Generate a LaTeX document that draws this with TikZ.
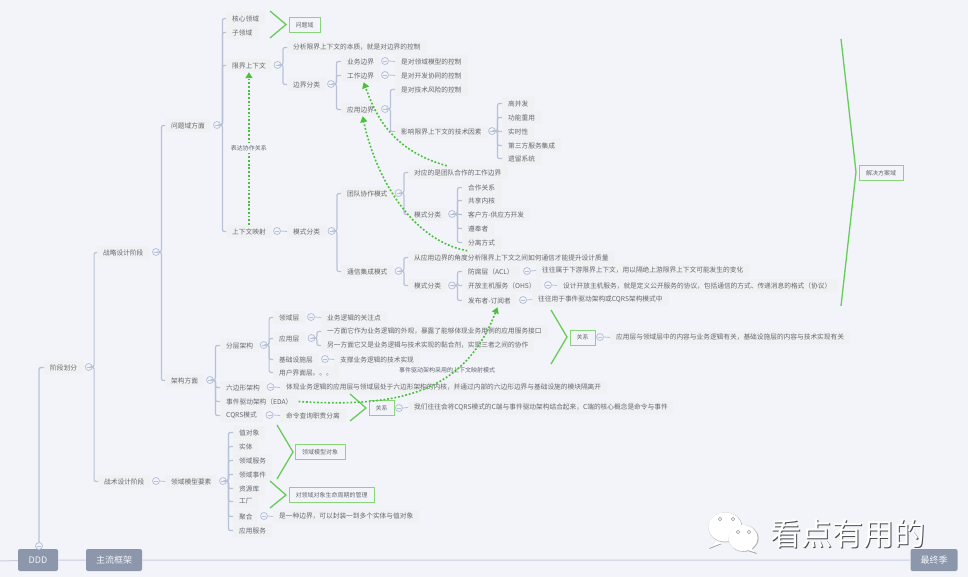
\documentclass[tikz,border=0pt]{standalone}
\usepackage{fontspec}
\usepackage{xcolor}
\usepackage{tikz}
\usetikzlibrary{arrows.meta}
\setmainfont{Noto Sans CJK SC}
\definecolor{pagebg}{RGB}{242,244,250}
\definecolor{ink}{RGB}{100,104,112}
\definecolor{chip}{RGB}{240,241,243}
\definecolor{rline}{RGB}{184,194,214}
\definecolor{leaf}{RGB}{104,204,88}
\definecolor{dotgreen}{RGB}{76,192,60}
\definecolor{rimgreen}{RGB}{136,214,120}
\definecolor{pill}{RGB}{140,151,171}
\definecolor{axisline}{RGB}{202,206,222}
\tikzset{
  topic/.style    ={rectangle, rounded corners=1pt, fill=chip, text=ink, anchor=west, inner xsep=6pt,
                    inner ysep=0pt, minimum height=13pt, yshift=-0.5pt, font=\fontsize{6.7}{8}\selectfont},
  fold/.style     ={circle, draw=rline, fill=pagebg, line width=0.8pt, minimum size=7pt, inner sep=0pt,
                    path picture={\draw[rline, line width=0.6pt] ([xshift=1.5pt]path picture bounding box.west) -- ([xshift=-1.5pt]path picture bounding box.east);}},
  branch/.style   ={draw=rline, line width=1.2pt, rounded corners=2pt},
  twig/.style     ={draw=rline, line width=0.8pt},
  gbox/.style     ={rectangle, draw=rimgreen, line width=1pt, fill=pagebg, text=ink, inner sep=0pt,
                    minimum height=15pt, font=\fontsize{6}{7}\selectfont},
  brace/.style    ={draw=leaf, line width=1.3pt},
  link/.style     ={draw=dotgreen, line width=1.6pt, dash pattern=on 1.8pt off 1.9pt,
                    -{Triangle[length=6pt, width=7pt, fill=dotgreen]}},
  linklabel/.style={text=ink, inner sep=1pt, font=\fontsize{6}{7}\selectfont},
  stagepill/.style={rectangle, rounded corners=2pt, fill=pill, text=pagebg, minimum height=22pt,
                    inner sep=0pt, font=\fontsize{9}{10}\selectfont},
}
\begin{document}
\begin{tikzpicture}[x=1pt, y=-1pt]
\useasboundingbox (0,0) rectangle (968,577);
\fill[pagebg] (0,0) rectangle (968,577);
% bottom timeline
\node[stagepill, minimum width=40pt] (ddd) at (38,560) {DDD};
\node[stagepill, minimum width=56pt] (mainframe) at (114,560) {主流框架};
\node[stagepill, minimum width=47pt] (lastseason) at (934,560) {最终季};
\coordinate (axisstart) at (0,561);
\draw[axisline, line width=1pt] (axisstart) -- (ddd) -- (mainframe) -- (lastseason);
% topics
\foreach \id/\x/\y/\txt in {stage/44/367/{阶段划分},
                            strategy/97/252/{战略设计阶段},
                            tactic/98/481/{战术设计阶段},
                            problem/165/125/{问题域方面},
                            arch/165/380/{架构方面},
                            model/165/481/{领域模型要素},
                            core/226/18/{核心领域},
                            sub/226/32/{子领域},
                            bctx/226/65/{限界上下文},
                            cmap/226/231/{上下文映射},
                            essence/287/47/{分析限界上下文的本质，就是对边界的控制},
                            bkind/287/84/{边界分类},
                            mkind/287/231/{模式分类},
                            bizb/341/61/{业务边界},
                            workb/341/75/{工作边界},
                            appb/341/109/{应用边界},
                            teamm/341/193/{团队协作模式},
                            commm/341/271/{通信集成模式},
                            bizc/395/61/{是对领域模型的控制},
                            workc/395/75/{是对开发协同的控制},
                            techc/395/89/{是对技术风险的控制},
                            factor/395/131/{影响限界上下文的技术因素},
                            teamb/408/172/{对应的是团队合作的工作边界},
                            teamk/408/214/{模式分类},
                            commq/408/257/{从应用边界的角度分析限界上下文之间如何通信才能提升设计质量},
                            commk/408/285/{模式分类},
                            conc/502/103/{高并发},
                            reuse/502/117/{功能重用},
                            rtime/502/131/{实时性},
                            third/502/145/{第三方服务集成},
                            legacy/502/158/{遗留系统},
                            partner/462/187/{合作关系},
                            kernel/462/200/{共享内核},
                            custsup/462/214/{客户方-供应方开发},
                            conform/462/228/{遵奉者},
                            separate/462/242/{分离方式},
                            acl/462/271/{防腐层（ACL）},
                            ohs/462/285/{开放主机服务（OHS）},
                            pubsub/462/300/{发布者-订阅者},
                            aclnote/536/270/{往往属于下游限界上下文，用以隔绝上游限界上下文可能发生的变化},
                            ohsnote/557/285/{设计开放主机服务，就是定义公开服务的协议，包括通信的方式、传递消息的格式（协议）},
                            pubnote/532/299/{往往用于事件驱动架构或CQRS架构模式中},
                            layered/220/345/{分层架构},
                            hexa/220/387/{六边形架构},
                            eda/220/401/{事件驱动架构（EDA）},
                            cqrs/220/415/{CQRS模式},
                            domainl/273/317/{领域层},
                            appl/273/338/{应用层},
                            infra/273/359/{基础设施层},
                            uil/273/372/{用户界面层。。。},
                            domainn/321/317/{业务逻辑的关注点},
                            appn/321/331/{一方面它作为业务逻辑的外观，暴露了能够体现业务用例的应用服务接口},
                            appm/321/345/{另一方面它又是业务逻辑与技术实现的黏合剂，实现三者之间的协作},
                            infran/334/359/{支撑业务逻辑的技术实现},
                            hexan/280/387/{体现业务逻辑的应用层与领域层处于六边形架构的内核，并通过内部的六边形边界与基础设施的模块隔离开},
                            cqrsn/280/415/{命令查询职责分离},
                            value/233/432/{值对象},
                            entity/233/446/{实体},
                            dservice/233/460/{领域服务},
                            devent/233/474/{领域事件},
                            repo/233/488/{资源库},
                            factory/233/501/{工厂},
                            aggr/233/516/{聚合},
                            aservice/233/530/{应用服务},
                            aggrn/273/516/{是一种边界，可以封装一到多个实体与值对象},
                            rel1n/610/337/{应用层与领域层中的内容与业务逻辑有关，基础设施层的内容与技术实现有关},
                            rel2n/408/407/{我们往往会将CQRS模式的C端与事件驱动架构结合起来，C端的核心概念是命令与事件}} {
  \node[topic] (\id) at (\x,\y) {\txt};
}
% summary boxes
\foreach \id/\x/\y/\w/\txt in {pdomain/304.5/25/31/{问题域},
                               sdomain/881/173/44/{解决方案域},
                               rel1/582.5/337.5/25/{关系},
                               rel2/381.5/408/25/{关系},
                               dobject/320/452/50/{领域模型对象},
                               lifecyc/331.5/495/85/{对领域对象生命周期的管理}} {
  \node[gbox, minimum width=\w pt] (\id) at (\x,\y) {\txt};
}
% fold marks
\foreach \id/\x/\y in {ddd/39/546, stage/88.7/367, strategy/156/252, tactic/156/481, problem/217/125,
                       arch/210/380, model/223/481, bctx/277.5/65, cmap/277/231, bkind/331/84,
                       mkind/331.5/231, bizb/385/61, workb/385/75, appb/385/109, factor/492/131,
                       teamm/398.5/193, commm/398.5/271, teamk/452/214, commk/452/285.5, acl/527/271,
                       ohs/548/285, pubsub/523/300, layered/263.7/345, hexa/270.5/387, cqrs/269.5/415,
                       domainl/311/317, appl/311.5/338, infra/325/359, aggr/264/516, rel1/600/337,
                       rel2/399/408} {
  \node[fold] (f\id) at (\x,\y) {};
}
% brackets
\foreach \p/\kids in {stage/{strategy,tactic}, strategy/{problem,arch},
                      problem/{core,sub,bctx,cmap}, bctx/{essence,bkind}, bkind/{bizb,workb,appb},
                      appb/{techc,factor}, factor/{conc,reuse,rtime,third,legacy},
                      mkind/{teamm,commm}, teamm/{teamb,teamk}, commm/{commq,commk},
                      teamk/{partner,kernel,custsup,conform,separate}, commk/{acl,ohs,pubsub},
                      arch/{layered,hexa,eda,cqrs}, layered/{domainl,appl,infra,uil}, appl/{appn,appm},
                      model/{value,entity,dservice,devent,repo,factory,aggr,aservice}} {
  \foreach \k in \kids {
    \draw[branch] (f\p.east) -- ++(1.5,0) |- (\k.west);
  }
}
\draw[branch, line width=1.4pt] (fddd.north) |- (stage.west);
% single notes
\foreach \a/\b in {bizb/bizc, workb/workc, acl/aclnote, ohs/ohsnote, pubsub/pubnote, tactic/model,
                   cmap/mkind, domainl/domainn, infra/infran, hexa/hexan, cqrs/cqrsn, aggr/aggrn,
                   rel1/rel1n, rel2/rel2n} {
  \draw[twig] (f\a.east) -- (\b.west);
}
% summary marks
\foreach \n/\xa/\ya/\xt/\yt/\yb in {a/270/11/286/24.5/38, b/841/39/856/172/306, c/551/310/567/337/364,
                                    d/350/394/366/408/421, e/277/425/293/452/479, f/270/481/286/495/508} {
  \coordinate (m\n1) at (\xa,\ya);
  \coordinate (m\n2) at (\xt,\yt);
  \coordinate (m\n3) at (\xa,\yb);
  \draw[brace] (m\n1) -- (m\n2) -- (m\n3);
}
% dotted relations
\draw[link] (cmap.north) -- node[linklabel, fill=pagebg] (cooplabel) {表达协作关系} (bctx.south);
\draw[link] ([xshift=-11pt]teamb.north) .. controls (390,150) and (375,113) .. ([xshift=3pt]workb.south);
\draw[link] ([xshift=-44pt]commq.north) .. controls (410,240) and (375,175) .. ([xshift=2pt]appb.south);
\draw[link] (eda.east) .. controls (400,408) and (465,392) .. ([xshift=8pt]pubsub.south);
\node[linklabel] (edalabel) at (447,370) {事件驱动架构采用的上下文映射模式};
% watermark
\fill[gray!70] (715,542) -- (709,549) -- (722,544) -- cycle;
\fill[white] (716,541) -- (710,547.5) -- (722,543) -- cycle;
\fill[gray!60] (725.4,527.4) ellipse (17 and 15);
\fill[white] (725,527) ellipse (16.6 and 14.6);
\fill[gray!70] (752,549) -- (757,554) -- (745,550) -- cycle;
\fill[gray!60] (743.6,538.4) ellipse (15 and 13.4);
\fill[white] (743,538) ellipse (14.6 and 13);
\fill[white] (751,548) -- (755.5,552.5) -- (745,549) -- cycle;
\foreach \x/\y in {720/519, 733/519, 738/532, 749/532} {
  \draw[gray!80, line width=0.5pt, fill=white] (\x,\y) circle (1.7);
}
\node[inner sep=0pt, text=black!70, font=\fontsize{31}{34}\selectfont] (markshadow) at (848.7,534.7) {看点有用的};
\node[inner sep=0pt, text=white, font=\fontsize{31}{34}\selectfont] (marktext) at (848,534) {看点有用的};
\end{tikzpicture}
\end{document}
